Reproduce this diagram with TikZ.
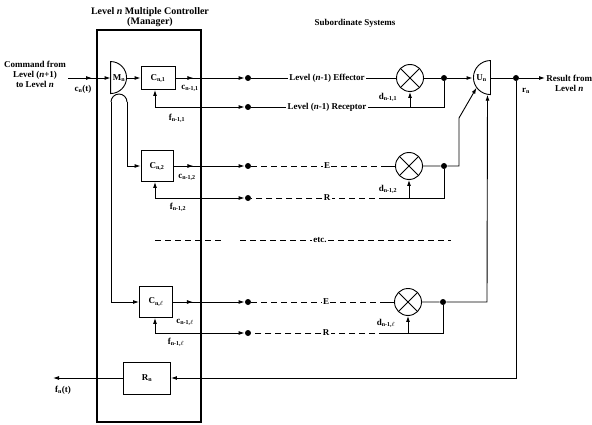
\documentclass[tikz,border=0pt]{standalone}
\usepackage{fontspec}
\setmainfont{Liberation Serif}
\usetikzlibrary{arrows.meta,calc,decorations.markings}

\tikzset{
    lbl/.style={font=\fontsize{9}{10}\selectfont\bfseries, inner sep=1pt},
    ctrl/.style={draw, lbl, minimum width=33pt, minimum height=31pt},
    dot/.style={circle, fill, inner sep=0pt, minimum size=6pt},
    mixer/.style={draw, circle, minimum size=27pt, inner sep=0pt,
        path picture={\draw (path picture bounding box.south west) -- (path picture bounding box.north east)
            (path picture bounding box.north west) -- (path picture bounding box.south east);}},
    dashline/.style={dash pattern=on 6pt off 4pt},
    tipat/.style={postaction={decorate}, decoration={markings,
        mark=at position #1 with {\arrow{Latex[length=6pt,width=4pt]}}}},
}

\begin{document}
\begin{tikzpicture}[x=1pt, y=-1pt, line width=0.9pt, >={Latex[length=6pt,width=4pt]}]
    \useasboundingbox (0,0) rectangle (592,425);

    % Manager frame
    \node[draw, line width=2pt, minimum width=104pt, minimum height=392pt, inner sep=0pt] (mgr) at (149,226) {};
    \node[lbl, font=\fontsize{10}{10.5}\selectfont\bfseries, align=center] (title) at (150,17) {Level \textit{n} Multiple Controller\\(Manager)};
    \node[lbl] (subsys) at (355,23) {Subordinate Systems};

    % M_n and U_n
    \node[lbl, minimum width=16pt, minimum height=32pt, inner sep=0pt] (Mn) at (119,78) {M\textsubscript{n}};
    \draw (Mn.north west) arc[start angle=90, end angle=-90, radius=16pt] -- cycle;
    \node[lbl, minimum width=17pt, minimum height=34pt, inner sep=0pt] (Un) at (481.5,78) {U\textsubscript{n}};
    \draw (Un.north east) arc[start angle=90, end angle=270, radius=17pt] -- cycle;

    % Controllers
    \node[ctrl, minimum width=34pt, minimum height=23pt] (C1) at (158,78) {C\textsubscript{n,1}};
    \node[ctrl, minimum width=32pt] (C2) at (157,166) {C\textsubscript{n,2}};
    \node[ctrl] (C3) at (156,302) {C\textsubscript{n,$\ell$}};
    \node[ctrl, minimum width=47pt, minimum height=32pt] (Rn) at (147,378) {R\textsubscript{n}};

    % Command input
    \node[lbl, align=center] (cmd) at (35,74) {Command from\\Level (\textit{n}+1)\\to Level \textit{n}};
    \coordinate (cin) at (68,78);
    \draw[->, tipat=24pt] (cin) -- (Mn.west);
    \node[lbl] (cn) at (83,89) {c\textsubscript{n}(t)};

    % Branches out of M_n
    \coordinate (brL) at (111,102);
    \draw (brL) arc[start angle=180, end angle=0, radius=8pt] coordinate (brR);
    \draw[->] (Mn.east) -- (C1);
    \draw[->] (brR) |- (C2);
    \draw[->] (brL) |- (C3);

    % Row 1
    \node[dot] (dE1) at (248,78) {};
    \node[dot] (dR1) at (248,107) {};
    \node[lbl] (eff1) at (327,78) {Level (\textit{n}-1) Effector};
    \node[lbl] (rec1) at (327,107) {Level (\textit{n}-1) Receptor};
    \node[mixer] (X1) at (410,78) {};
    \node[dot] (dO1) at (444,78) {};
    \coordinate (rc1) at (444,107);
    \draw[->, tipat=18pt] (C1) -- (dE1);
    \draw[<->] ([xshift=-3pt]C1.south) |- (dR1);
    \draw (dE1) -- (eff1) -- (X1);
    \draw[->] (X1) -- (dO1) -- (Un.west);
    \draw (dO1) -- (rc1) -- (rec1) -- (dR1);
    \draw[->] (X1 |- rc1) -- (X1);
    \node[lbl] (c1) at (190,88) {c\textsubscript{n-1,1}};
    \node[lbl] (f1) at (177,118) {f\textsubscript{n-1,1}};
    \node[lbl] (d1) at (388,97) {d\textsubscript{n-1,1}};

    % Row 2
    \node[dot] (dE2) at (248,166) {};
    \node[dot] (dR2) at (248,198) {};
    \node[lbl] (E2) at (327,166) {E};
    \node[lbl] (R2) at (327,198) {R};
    \node[mixer] (X2) at (409,166) {};
    \node[dot] (dO2) at (444,166) {};
    \coordinate (es2) at (385,166);
    \coordinate (rs2) at (385,198);
    \coordinate (rc2) at (444,198);
    \coordinate (up2) at (459,166);
    \coordinate (up2b) at (459,118);
    \draw[->, tipat=20pt] (C2) -- (dE2);
    \draw[<->] ([xshift=-2pt]C2.south) |- (dR2);
    \draw[dashline] (dE2) -- (E2) -- (es2);
    \draw (es2) -- (X2);
    \draw[->] (X2) -- (dO2) -- (up2) -- (up2b) -- ($(Un.east)+(215:17pt)$);
    \draw (dO2) -- (rc2) -- (rs2);
    \draw[dashline] (rs2) -- (R2) -- (dR2);
    \draw[->] (X2 |- rc2) -- (X2);
    \node[lbl] (c2) at (187,177) {c\textsubscript{n-1,2}};
    \node[lbl] (f2) at (178,207) {f\textsubscript{n-1,2}};
    \node[lbl] (d2) at (388,189) {d\textsubscript{n-1,2}};

    % etc.
    \node[lbl] (etc) at (320,240) {etc.};
    \draw[dashline] (155,240) -- (222,240);
    \draw[dashline] (240,240) -- (etc);
    \draw[dashline] (etc) -- (451,240);

    % Row l
    \node[dot] (dE3) at (248,302) {};
    \node[dot] (dR3) at (248,333) {};
    \node[lbl] (E3) at (326,302) {E};
    \node[lbl] (R3) at (326,333) {R};
    \node[mixer] (X3) at (408,302) {};
    \node[dot] (dO3) at (443,302) {};
    \coordinate (es3) at (385,302);
    \coordinate (rs3) at (385,333);
    \coordinate (rc3) at (443,333);
    \coordinate (up3) at (487,302);
    \draw[->, tipat=20pt] (C3) -- (dE3);
    \draw[<->] ([xshift=-1pt]C3.south) |- (dR3);
    \draw[dashline] (dE3) -- (E3) -- (es3);
    \draw (es3) -- (X3);
    \draw[->] (X3) -- (dO3) -- (up3) -- ($(Un.east)+(260:17pt)$);
    \draw (dO3) -- (rc3) -- (rs3);
    \draw[dashline] (rs3) -- (R3) -- (dR3);
    \draw[->] (X3 |- rc3) -- (X3);
    \node[lbl] (c3) at (185,322) {c\textsubscript{n-1,$\ell$}};
    \node[lbl] (f3) at (176,342) {f\textsubscript{n-1,$\ell$}};
    \node[lbl] (d3) at (386,323) {d\textsubscript{n-1,$\ell$}};

    % Result and report
    \node[dot] (dU) at (516,78) {};
    \node[lbl, align=center, anchor=west] (res) at (545,83) {Result from\\Level \textit{n}};
    \draw[->] (Un.east) -- (dU) -- (res.west |- dU);
    \node[lbl] (rn) at (526,91) {r\textsubscript{n}};
    \draw[->] (dU) |- (Rn);
    \coordinate (fout) at (53,378);
    \draw[->] (Rn) -- (fout);
    \node[lbl] (fn) at (63,390) {f\textsubscript{n}(t)};

\end{tikzpicture}
\end{document}
